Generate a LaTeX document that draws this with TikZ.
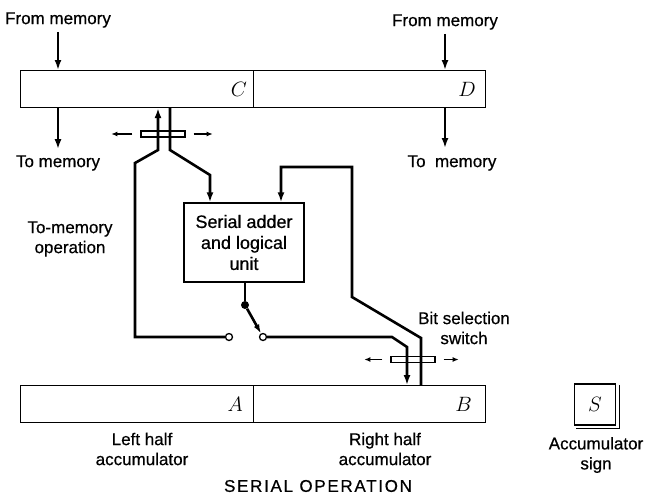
\documentclass[tikz,border=0pt]{standalone}
\usepackage{fontspec}
\setmainfont{Liberation Sans}[FakeBold=0.6]
\usetikzlibrary{positioning,arrows.meta}

\begin{document}
\begin{tikzpicture}[x=1pt,y=-1pt,
  reg/.style={draw,line width=1.1pt,minimum width=233pt,minimum height=37pt,inner sep=0pt,anchor=north west},
  letter/.style={font=\fontsize{20}{20}\selectfont,anchor=east,inner sep=0pt},
  lbl/.style={font=\fontsize{17}{20}\selectfont,align=center,inner sep=1pt},
  wire/.style={line width=2.6pt},
  feed/.style={wire,-{Latex[length=10pt,width=7pt]}},
  slide/.style={line width=1.3pt,-{Latex[length=6pt,width=5pt]}},
  bar/.style={draw,line width=1.4pt,minimum width=44pt,minimum height=6pt,inner sep=0pt},
  contact/.style={circle,draw,fill=white,line width=1.3pt,minimum size=7pt,inner sep=0pt}]
  \useasboundingbox (0,0) rectangle (648,499);

  \node[reg] (c) at (20,70) {};
  \node[reg,minimum width=232pt] (d) at (253,70) {};
  \node[reg] (a) at (20,385) {};
  \node[reg,minimum width=232pt] (b) at (253,385) {};
  \node[letter] (cl) at ([xshift=-7pt]c.east) {$C$};
  \node[letter] (dl) at ([xshift=-10pt]d.east) {$D$};
  \node[letter] (al) at ([xshift=-11pt]a.east) {$A$};
  \node[letter] (bl) at ([xshift=-14pt]b.east) {$B$};

  \node[draw,line width=1.3pt,minimum width=120pt,minimum height=79pt,align=center,
    font=\fontsize{18}{21}\selectfont] (alu) at (244,242.5) {Serial adder\\and logical\\unit};
  \node[draw,line width=1.3pt,minimum size=41pt,inner sep=0pt] (s) at (595,404.5) {\fontsize{20}{20}\selectfont$S$};

  \node[lbl] (fmc) at (58,20) {From memory};
  \node[lbl] (tmc) at (58,163) {To memory};
  \node[lbl] (fmd) at (445,22) {From memory};
  \node[lbl] (tmd) at (452,163) {To\ \ memory};
  \node[lbl] (tmo) at (70,239) {To-memory\\operation};
  \node[lbl] (bss) at (464,328) {Bit selection\\switch};
  \node[lbl] (lha) at (142,449) {Left half\\accumulator};
  \node[lbl] (rha) at (385,449) {Right half\\accumulator};
  \node[lbl] (acs) at (596,455) {Accumulator\\sign};
  \node[lbl] (title) at (318,486) {\addfontfeature{LetterSpace=10}SERIAL\ OPERATION};

  \node[contact] (kl) at (229,337) {};
  \node[contact] (kr) at (263,337) {};
  \node[circle,fill,minimum size=8pt,inner sep=0pt] (pv) at (245,305) {};

  \coordinate (c1) at (158,150);
  \coordinate (c2) at (170,150);
  \coordinate (a1) at (210,175);
  \coordinate (b1) at (392,337);
  \coordinate (b2) at (407,347);
  \coordinate (b3) at (421,338);
  \coordinate (b4) at (352,297);
  \coordinate (b5) at (352,167);
  \coordinate (b6) at (281,167);
  \coordinate (td) at (445,163);

  \draw[feed,shorten <=3pt] (fmc.south) -- (fmc.south |- c.north);
  \draw[feed,shorten >=5pt] (fmc.south |- c.south) -- (tmc.north);
  \draw[feed,shorten <=3pt] (fmd.south) -- (fmd.south |- d.north);
  \draw[feed,shorten >=15pt] (fmd.south |- d.south) -- (td);

  \draw[feed] (kl.west) -| (135,163) -- (c1) -- (c1 |- c.south);
  \draw[feed] (c2 |- c.south) -- (c2) -- (a1) -- (a1 |- alu.north);
  \draw[wire] (alu.south -| pv) -- (pv);
  \draw[wire,-{Latex[length=9pt,width=6pt]}] (pv) -- (kr);
  \draw[feed] (kr.east) -- (b1) -- (b2) -- (b2 |- b.north);
  \draw[feed] (b3 |- b.north) -- (b3) -- (b4) -- (b5) -- (b6) -- (b6 |- alu.north);

  \node[bar] (swc) at (163,134) {};
  \node[bar] (swb) at (413,359.5) {};
  \draw[slide] ([xshift=-8pt]swc.west) -- ([xshift=-29pt]swc.west);
  \draw[slide] ([xshift=8pt]swc.east) -- ([xshift=27pt]swc.east);
  \draw[slide] ([xshift=-8pt]swb.west) -- ([xshift=-26pt]swb.west);
  \draw[slide] ([xshift=8pt]swb.east) -- ([xshift=23pt]swb.east);

  \draw[line width=1.1pt] ([xshift=3pt,yshift=-2pt]s.north east) -- ([xshift=3pt,yshift=-3pt]s.south east) -- ([xshift=2pt,yshift=-3pt]s.south west);
\end{tikzpicture}
\end{document}
